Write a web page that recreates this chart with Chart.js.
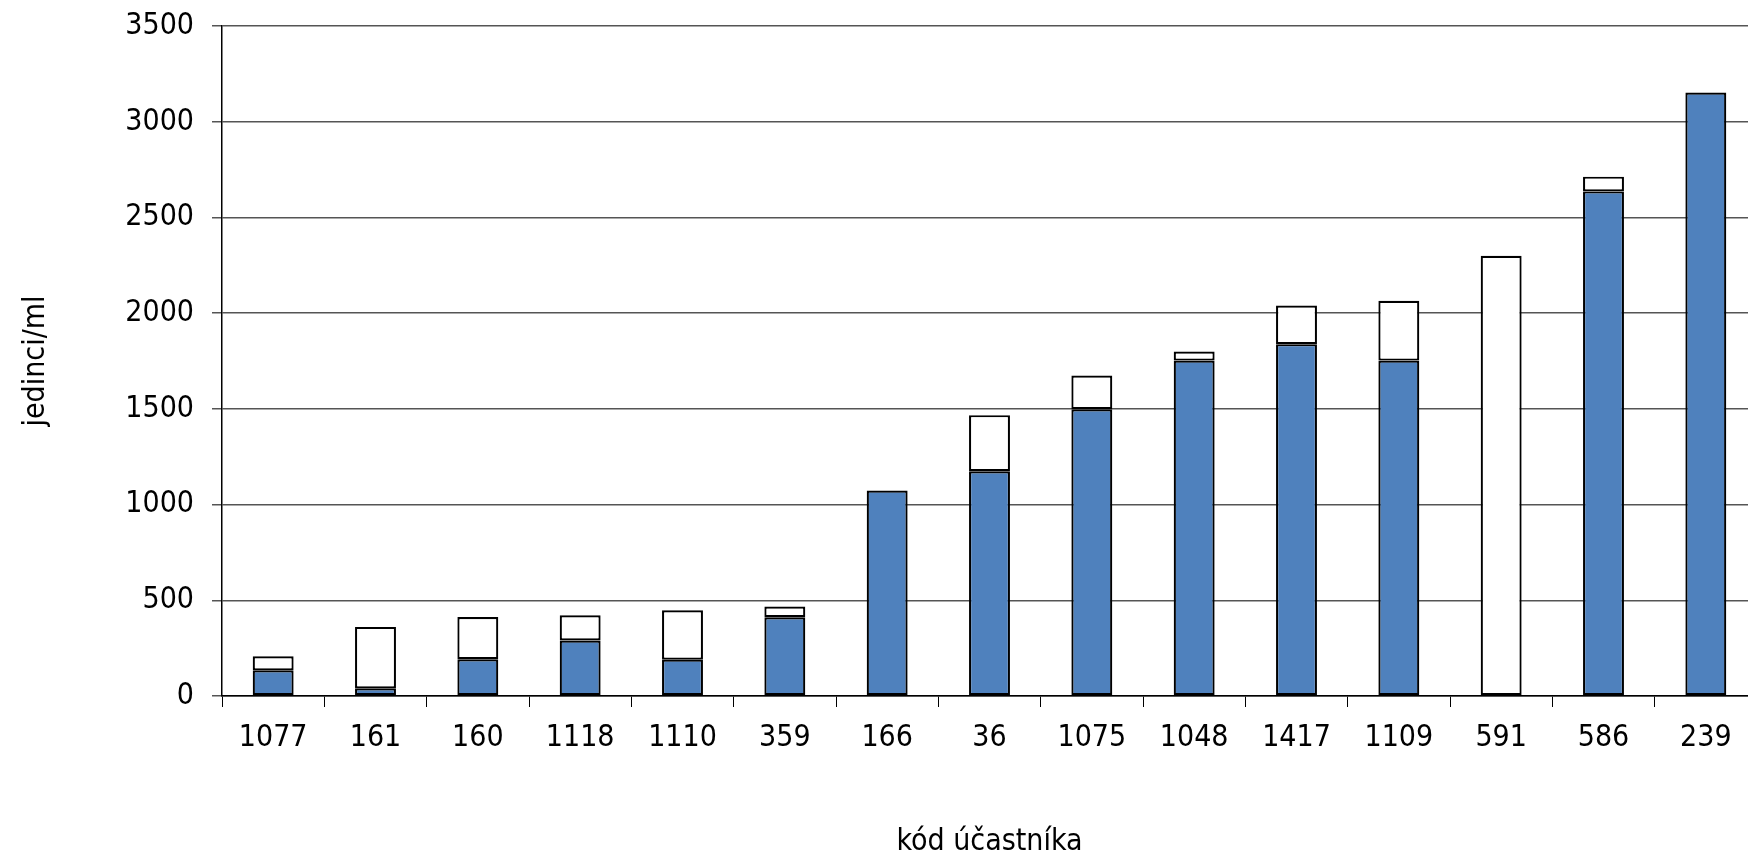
<!DOCTYPE html>
<html>
<head>
<meta charset="utf-8">
<script src="https://cdn.jsdelivr.net/npm/chart.js@4.4.0/dist/chart.umd.min.js"></script>
<style>
  html, body { margin: 0; padding: 0; background: #fff; overflow: hidden; }
  #wrap { width: 1757px; height: 857px; }
</style>
</head>
<body>
<div id="wrap"><canvas id="chart"></canvas></div>
<script>
'use strict';

// Data
var categories = ['1077', '161', '160', '1118', '1110', '359', '166', '36', '1075', '1048', '1417', '1109', '591', '586', '239'];
var blueValues = [134, 40, 192, 290, 190, 411, 1073, 1174, 1498, 1752, 1838, 1752, null, 2636, 3152];
var whiteValues = [73, 321, 221, 132, 258, 56, null, 293, 176, 47, 202, 313, 2300, 77, null];
var yTicks = [0, 500, 1000, 1500, 2000, 2500, 3000, 3500];

var fontFamily = "'DejaVu Sans Condensed', 'Liberation Sans', sans-serif";

var ctx = document.getElementById('chart').getContext('2d');
var chart = new Chart(ctx, {
  type: 'bar',
  data: {
    labels: categories,
    datasets: [{
      label: 'a',
      data: blueValues,
      backgroundColor: '#4f81bd',
      borderColor: '#000',
      borderWidth: 2.2,
      borderSkipped: false,
      barPercentage: 0.4,
      categoryPercentage: 1
    }, {
      label: 'b',
      data: whiteValues,
      backgroundColor: '#fff',
      borderColor: '#000',
      borderWidth: 2.2,
      borderSkipped: false,
      barPercentage: 0.4,
      categoryPercentage: 1
    }]
  },
  options: {
    responsive: true,
    maintainAspectRatio: false,
    animation: false,
    layout: { padding: { top: 26, right: 0, left: 0, bottom: 0 } },
    plugins: {
      legend: { display: false },
      tooltip: { enabled: false }
    },
    scales: {
      x: {
        stacked: true,
        grid: {
          offset: true,
          drawOnChartArea: false,
          drawTicks: true,
          tickLength: 11,
          color: '#000',
          lineWidth: 1
        },
        border: { display: true, color: '#000', width: 1.5 },
        ticks: {
          color: '#000',
          font: { family: fontFamily, size: 30 },
          padding: 13,
          maxRotation: 0,
          autoSkip: false
        },
        title: {
          display: true,
          text: 'kód účastníka',
          color: '#000',
          font: { family: fontFamily, size: 30, lineHeight: 1 },
          padding: { top: 0, bottom: 0 }
        },
        afterFit: function (scale) {
          scale.height = 161;
          scale.paddingLeft = 0;
          scale.paddingRight = 0;
        }
      },
      y: {
        stacked: true,
        min: 0,
        max: 3500,
        afterBuildTicks: function (scale) {
          scale.ticks = yTicks.map(function (v) { return { value: v }; });
        },
        grid: {
          color: '#555',
          lineWidth: 1.5,
          drawTicks: true,
          tickLength: 10
        },
        border: { display: true, color: '#000', width: 1.5 },
        ticks: {
          color: '#000',
          font: { family: fontFamily, size: 30 },
          padding: 18,
          callback: function (value) { return String(value); }
        },
        title: {
          display: true,
          text: 'jedinci/ml',
          color: '#000',
          font: { family: fontFamily, size: 30 },
          padding: { top: 18, bottom: 0 }
        },
        afterFit: function (scale) {
          scale.width = 222;
          scale.paddingTop = 0;
          scale.paddingBottom = 0;
        }
      }
    }
  }
});
</script>
</body>
</html>
